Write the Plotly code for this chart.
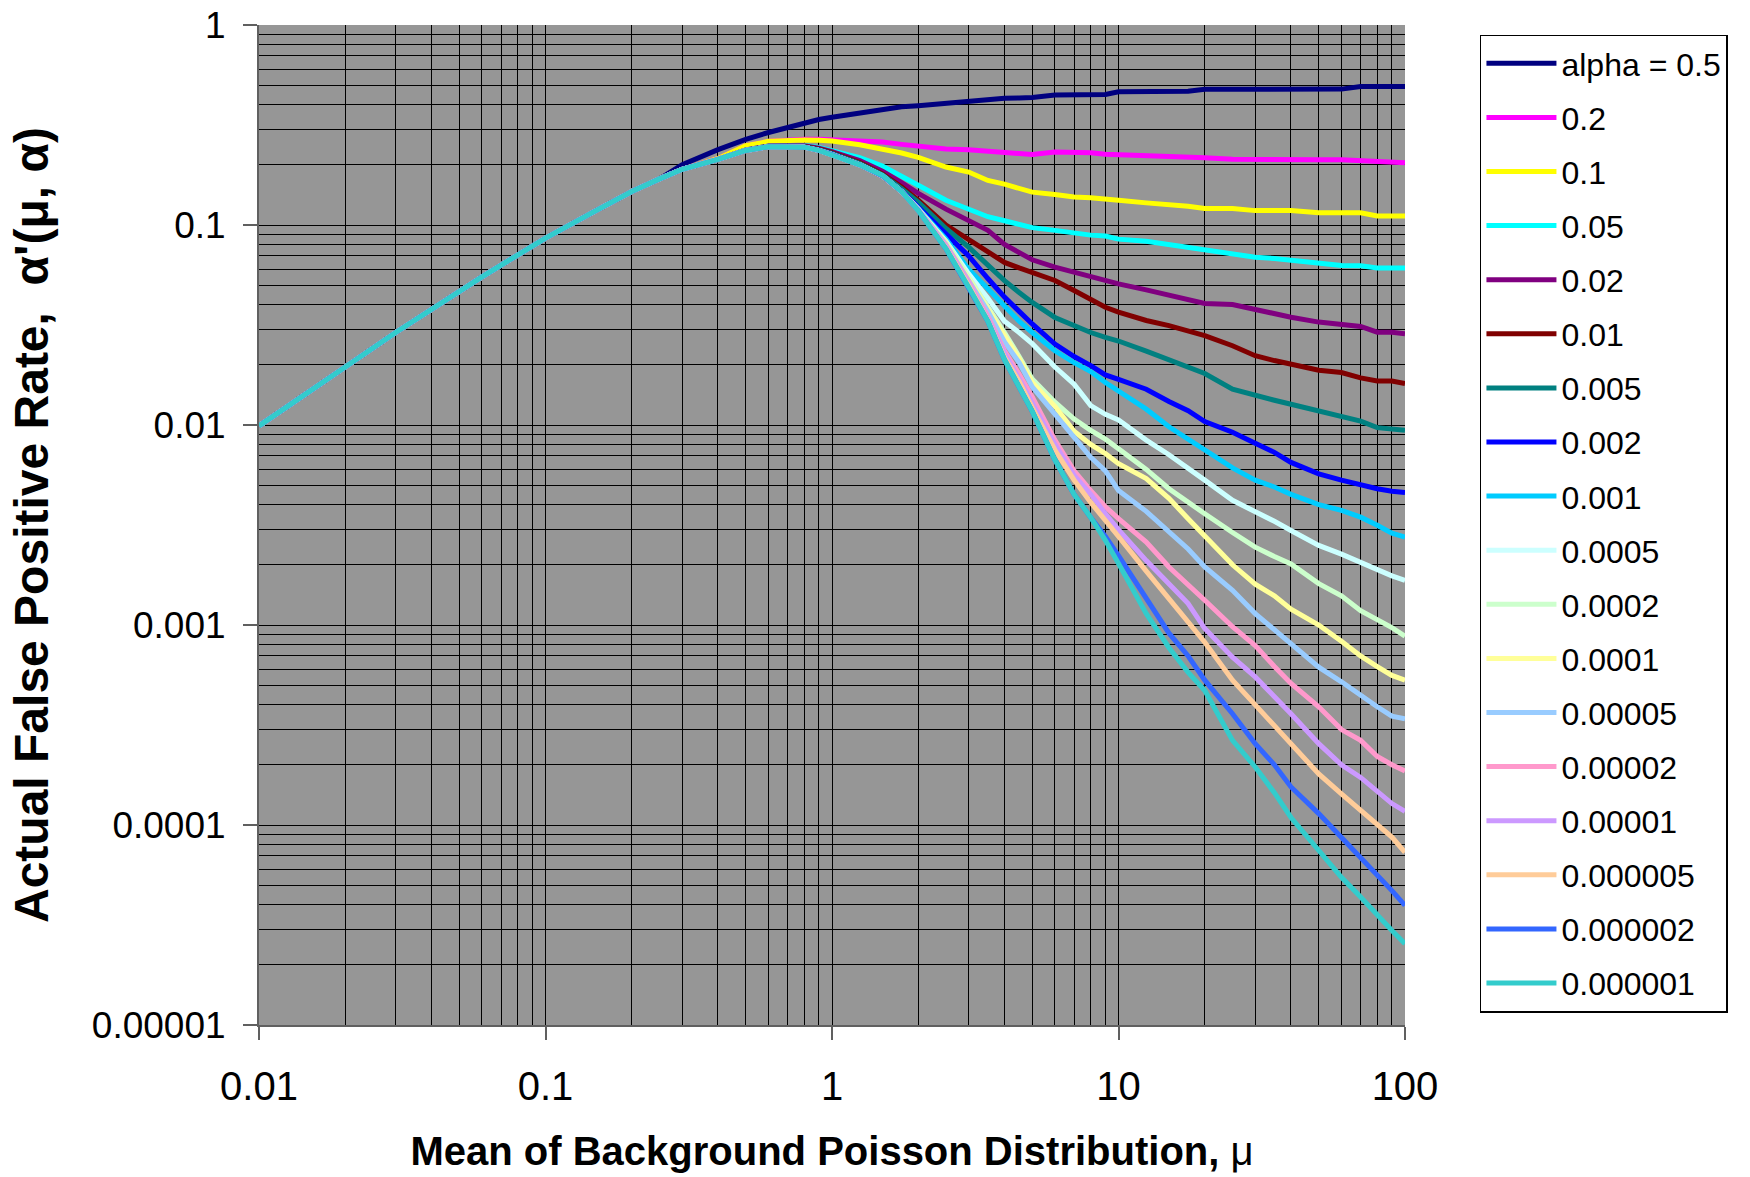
import plotly.graph_objects as go

# ---------------- data ----------------
# rising part shared by every alpha curve
mu_rise = [0.01, 0.015, 0.02, 0.03, 0.04, 0.05, 0.06, 0.07, 0.08, 0.09, 0.1, 0.15, 0.2, 0.25]
rate_rise = [0.0099, 0.0146, 0.0195, 0.029, 0.038, 0.0465, 0.055, 0.063, 0.071, 0.079, 0.086,
             0.118, 0.147, 0.17]

# per-alpha part
mu_tail = [0.3, 0.4, 0.5, 0.6, 0.7, 0.8, 0.9, 1,
           1.25, 1.5, 1.75, 2,
           2.5, 3, 3.5, 4, 4.5, 5,
           6, 7, 8, 9, 10,
           12.5, 15, 17.5, 20,
           25, 30, 35, 40,
           50, 60, 70, 80, 90, 100]

tail_0_5 = [0.2, 0.238, 0.268, 0.29, 0.308, 0.325, 0.337, 0.346,
            0.362, 0.38, 0.39, 0.395,
            0.407, 0.414, 0.425, 0.43, 0.432, 0.434,
            0.447, 0.447, 0.447, 0.449, 0.464,
            0.464, 0.465, 0.466, 0.477,
            0.477, 0.477, 0.477, 0.477,
            0.477, 0.478, 0.492, 0.492, 0.492, 0.492]
tail_0_2 = [0.19, 0.215, 0.249, 0.262, 0.266, 0.268, 0.268, 0.267,
            0.264, 0.26, 0.253, 0.247,
            0.24, 0.238, 0.234, 0.233, 0.229, 0.225,
            0.232, 0.232, 0.23, 0.226, 0.225,
            0.224, 0.22, 0.219, 0.217,
            0.213, 0.212, 0.212, 0.212,
            0.212, 0.212, 0.21, 0.206, 0.205, 0.205]
tail_0_1 = [0.19, 0.215, 0.249, 0.262, 0.266, 0.266, 0.265, 0.263,
            0.252, 0.24, 0.229, 0.218,
            0.195, 0.184, 0.167, 0.16, 0.152, 0.146,
            0.142, 0.138, 0.137, 0.134, 0.133,
            0.129, 0.127, 0.124, 0.121,
            0.121, 0.118, 0.118, 0.118,
            0.115, 0.115, 0.115, 0.111, 0.111, 0.111]
tail_0_05 = [0.19, 0.213, 0.237, 0.248, 0.25, 0.25, 0.244, 0.236,
             0.217, 0.197, 0.176, 0.158,
             0.133, 0.12, 0.11, 0.105, 0.1, 0.097,
             0.094, 0.091, 0.089, 0.088, 0.085,
             0.083, 0.08, 0.077, 0.0746,
             0.072, 0.069, 0.068, 0.0665,
             0.064, 0.0627, 0.0625, 0.061, 0.061, 0.061]
tail_0_02 = [0.19, 0.213, 0.237, 0.248, 0.25, 0.249, 0.242, 0.233,
             0.21, 0.186, 0.163, 0.144,
             0.12, 0.105, 0.094, 0.08, 0.073, 0.067,
             0.0615, 0.058, 0.0559, 0.0528, 0.0508,
             0.0474, 0.0444, 0.042, 0.0405,
             0.04, 0.0377, 0.036, 0.0346,
             0.0327, 0.0318, 0.0311, 0.0291, 0.0291, 0.0286]
tail_0_01 = [0.19, 0.213, 0.236, 0.247, 0.248, 0.247, 0.24, 0.23,
             0.205, 0.18, 0.155, 0.133,
             0.1, 0.085, 0.073, 0.065, 0.061, 0.058,
             0.0528, 0.047, 0.0428, 0.0388, 0.0367,
             0.0333, 0.0314, 0.0295, 0.028,
             0.0249, 0.0222, 0.021, 0.0201,
             0.0188, 0.0183, 0.0172, 0.0166, 0.0166, 0.0161]
tail_0_005 = [0.19, 0.213, 0.236, 0.247, 0.248, 0.246, 0.238, 0.228,
              0.203, 0.178, 0.152, 0.13,
              0.096, 0.0775, 0.063, 0.0527, 0.046, 0.041,
              0.0345, 0.0313, 0.029, 0.0274, 0.0263,
              0.0234, 0.0213, 0.0196, 0.0181,
              0.0151, 0.014, 0.0133, 0.0127,
              0.0117, 0.0109, 0.01045, 0.0097, 0.0095, 0.0094]
tail_0_002 = [0.19, 0.213, 0.236, 0.246, 0.247, 0.245, 0.237, 0.226,
              0.2, 0.176, 0.148, 0.123,
              0.091, 0.07, 0.054, 0.0436, 0.037, 0.032,
              0.0254, 0.022, 0.0198, 0.0178, 0.0169,
              0.0151, 0.0131, 0.0118, 0.0104,
              0.0092, 0.0081, 0.0073, 0.0065,
              0.0057, 0.0053, 0.005, 0.0048, 0.00466, 0.0046]
tail_0_001 = [0.19, 0.213, 0.236, 0.246, 0.247, 0.245, 0.236, 0.225,
              0.2, 0.176, 0.147, 0.121,
              0.085, 0.06, 0.048, 0.039, 0.033, 0.029,
              0.0235, 0.0205, 0.0185, 0.0163, 0.0147,
              0.012, 0.0098, 0.0085, 0.0075,
              0.0061, 0.0053, 0.0049, 0.0045,
              0.004, 0.00374, 0.00346, 0.00315, 0.00288, 0.00275]
tail_0_0005 = [0.19, 0.213, 0.236, 0.246, 0.247, 0.245, 0.236, 0.225,
               0.2, 0.176, 0.147, 0.12,
               0.083, 0.057, 0.043, 0.033, 0.029, 0.0255,
               0.0195, 0.016, 0.0125, 0.0113, 0.0106,
               0.0084, 0.0071, 0.0061, 0.0053,
               0.0042, 0.0037, 0.0033, 0.00297,
               0.0025, 0.00226, 0.00205, 0.00187, 0.00176, 0.00167]
tail_0_0002 = [0.19, 0.213, 0.236, 0.246, 0.247, 0.245, 0.236, 0.225,
               0.2, 0.176, 0.147, 0.12,
               0.082, 0.055, 0.039, 0.029, 0.022, 0.017,
               0.013, 0.0107, 0.0094, 0.0085, 0.0076,
               0.006, 0.0048, 0.0041, 0.0036,
               0.0029, 0.00245, 0.0022, 0.00202,
               0.00161, 0.0014, 0.00118, 0.00107, 0.00097, 0.00088]
tail_0_0001 = [0.19, 0.213, 0.236, 0.246, 0.247, 0.245, 0.236, 0.225,
               0.2, 0.176, 0.147, 0.12,
               0.081, 0.054, 0.038, 0.028, 0.0215, 0.0163,
               0.0124, 0.0093, 0.008, 0.0072, 0.0064,
               0.0054, 0.0043, 0.0034, 0.0028,
               0.002, 0.0016, 0.0014, 0.0012,
               0.001, 0.00083, 0.0007, 0.00062, 0.00056, 0.00053]
tail_0_00005 = [0.19, 0.213, 0.236, 0.246, 0.247, 0.245, 0.236, 0.225,
                0.2, 0.176, 0.147, 0.12,
                0.08, 0.053, 0.037, 0.026, 0.0205, 0.0155,
                0.0114, 0.0088, 0.0069, 0.0059, 0.0047,
                0.0037, 0.0029, 0.0024, 0.00195,
                0.00149, 0.00114, 0.00095, 0.0008,
                0.000615, 0.00052, 0.000444, 0.00039, 0.00035, 0.00034]
tail_0_00002 = [0.19, 0.213, 0.236, 0.246, 0.247, 0.245, 0.236, 0.225,
                0.2, 0.176, 0.147, 0.119,
                0.079, 0.052, 0.035, 0.0235, 0.018, 0.0138,
                0.0084, 0.0059, 0.0047, 0.0039, 0.0034,
                0.0026, 0.00195, 0.0016, 0.00133,
                0.00098, 0.00079, 0.00062, 0.00051,
                0.00039, 0.0003, 0.000265, 0.00022, 0.0002, 0.000186]
tail_0_00001 = [0.19, 0.213, 0.236, 0.246, 0.247, 0.245, 0.236, 0.225,
                0.2, 0.176, 0.147, 0.119,
                0.078, 0.051, 0.034, 0.0228, 0.017, 0.013,
                0.008, 0.0056, 0.0045, 0.0036, 0.003,
                0.0021, 0.0016, 0.00128, 0.00096,
                0.00069, 0.00055, 0.00044, 0.00036,
                0.000255, 0.0002, 0.000173, 0.000146, 0.000128, 0.000117]
tail_0_000005 = [0.19, 0.213, 0.236, 0.246, 0.247, 0.245, 0.236, 0.225,
                 0.2, 0.176, 0.147, 0.118,
                 0.077, 0.05, 0.0335, 0.0218, 0.0165, 0.0122,
                 0.0075, 0.0053, 0.0041, 0.0033, 0.00277,
                 0.00186, 0.00135, 0.00105, 0.00082,
                 0.00053, 0.0004, 0.00031, 0.000255,
                 0.00018, 0.000143, 0.000118, 0.000101, 0.000087, 0.000073]
tail_0_000002 = [0.19, 0.213, 0.236, 0.246, 0.247, 0.245, 0.236, 0.225,
                 0.2, 0.176, 0.147, 0.118,
                 0.076, 0.049, 0.033, 0.0212, 0.0155, 0.0117,
                 0.0067, 0.0045, 0.00345, 0.00277, 0.00222,
                 0.00136, 0.00091, 0.0007, 0.00053,
                 0.00036, 0.000255, 0.0002, 0.000155,
                 0.000114, 0.000087, 0.000069, 0.000057, 0.000047, 0.0000396]
tail_0_000001 = [0.19, 0.213, 0.236, 0.246, 0.247, 0.245, 0.236, 0.224,
                 0.2, 0.177, 0.147, 0.118,
                 0.076, 0.0489, 0.033, 0.0212, 0.0155, 0.0117,
                 0.0067, 0.0045, 0.00345, 0.00265, 0.00203,
                 0.00114, 0.00077, 0.00058, 0.00047,
                 0.000265, 0.000195, 0.000145, 0.000109,
                 0.0000746, 0.0000548, 0.0000436, 0.0000353, 0.0000297, 0.0000255]

legend_labels = ["alpha = 0.5", "0.2", "0.1", "0.05", "0.02", "0.01", "0.005", "0.002",
                 "0.001", "0.0005", "0.0002", "0.0001", "0.00005", "0.00002", "0.00001",
                 "0.000005", "0.000002", "0.000001"]
line_colors = ["#000080", "#FF00FF", "#FFFF00", "#00FFFF", "#800080", "#800000", "#008080",
               "#0000FF", "#00CCFF", "#CCFFFF", "#CCFFCC", "#FFFF99", "#99CCFF", "#FF99CC",
               "#CC99FF", "#FFCC99", "#3366FF", "#33CCCC"]
tails = [tail_0_5, tail_0_2, tail_0_1, tail_0_05, tail_0_02, tail_0_01, tail_0_005,
         tail_0_002, tail_0_001, tail_0_0005, tail_0_0002, tail_0_0001, tail_0_00005,
         tail_0_00002, tail_0_00001, tail_0_000005, tail_0_000002, tail_0_000001]

x_tickvals = [0.01, 0.1, 1, 10, 100]
x_ticktext = ["0.01", "0.1", "1", "10", "100"]
y_tickvals = [1, 0.1, 0.01, 0.001, 0.0001, 0.00001]
y_ticktext = ["1", "0.1", "0.01", "0.001", "0.0001", "0.00001"]

# ---------------- figure ----------------
FONT = "Liberation Sans, Arial, Helvetica, sans-serif"
fig = go.Figure()
for i, (lab, col, tail) in enumerate(zip(legend_labels, line_colors, tails)):
    fig.add_trace(go.Scatter(
        x=mu_rise + mu_tail, y=rate_rise + tail, mode="lines", name=lab,
        legendgroup=f"g{i:02d}",
        line=dict(color=col, width=5)))

axis_common = dict(
    type="log", ticks="outside", tickcolor="#606060", tickwidth=2,
    showline=True, linecolor="#606060", linewidth=2,
    showgrid=True, gridcolor="black", gridwidth=1,
    minor=dict(dtick="D1", showgrid=True, gridcolor="black", gridwidth=1, ticks=""),
    zeroline=False, automargin=False,
)

fig.update_layout(
    width=1750, height=1177,
    margin=dict(l=259, r=345, t=25, b=152),
    paper_bgcolor="white", plot_bgcolor="#969696",
    font=dict(family=FONT, color="black"),
    showlegend=True,
    legend=dict(x=1.0654, xanchor="left", y=0.9905, yanchor="top",
                bgcolor="white", bordercolor="black", borderwidth=1.5,
                font=dict(size=32, family=FONT, color="black"),
                tracegroupgap=9.5, itemwidth=70, traceorder="grouped"),
    xaxis=dict(axis_common, range=[-2, 2], tickvals=x_tickvals, ticktext=x_ticktext,
               ticklen=13, tickfont=dict(size=40), ticklabelstandoff=12,
               title=dict(text="<b>Mean of Background Poisson Distribution, </b>μ",
                          font=dict(size=40), standoff=30)),
    yaxis=dict(axis_common, range=[-5, 0], tickvals=y_tickvals, ticktext=y_ticktext,
               ticklen=14, tickfont=dict(size=37), ticklabelstandoff=10,
               title=dict(text="<b>Actual False Positive Rate,  α'(μ, α)</b>",
                          font=dict(size=48), standoff=28)),
)

fig.write_html("out.html")
